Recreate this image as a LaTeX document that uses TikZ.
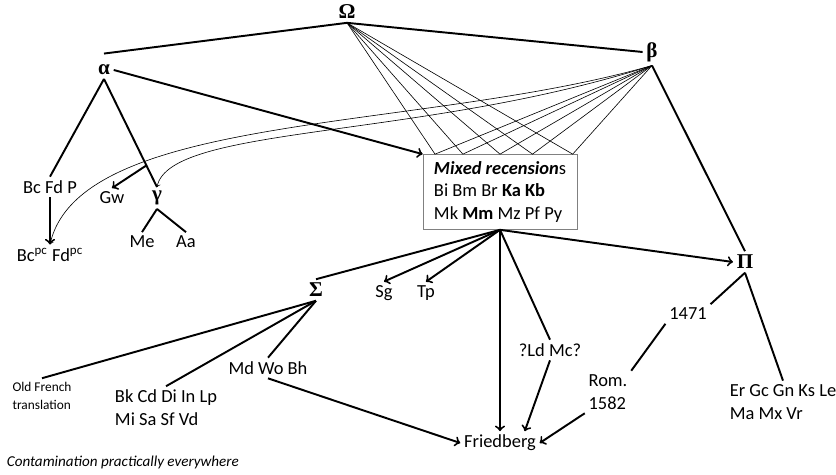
\documentclass[tikz,border=0pt]{standalone}
\usepackage{fontspec}
\setmainfont{Carlito}
\newfontfamily\grkfont{Liberation Serif}
\usetikzlibrary{calc}

\begin{document}
\begin{tikzpicture}[x=0.02cm, y=-0.02cm,
    every node/.style={inner sep=2pt, align=center, font=\fontsize{10.5}{13}\selectfont},
    grk/.style={font=\grkfont\fontsize{12}{14}\selectfont\bfseries},
    small/.style={font=\fontsize{7.6}{10.5}\selectfont},
    note/.style={font=\fontsize{8.6}{11}\selectfont\itshape},
    thick line/.style={line width=1.1pt},
    thin line/.style={line width=0.35pt},
    arr/.style={->, line width=1.1pt}]
    \useasboundingbox (0,0) rectangle (836,475);

    % Nodes
    \node[grk] (Omega) at (347,12) {Ω};
    \node[grk] (alpha) at (104,70) {α};
    \node[grk] (beta) at (652,52) {β};
    \node[draw=gray, minimum width=3.08cm, minimum height=1.5cm, align=left,
          font=\fontsize{10.5}{12.8}\selectfont] (box) at (500,192)
        {\textbf{\textit{Mixed recension}}s\\Bi Bm Br \textbf{Ka} \textbf{Kb}\\Mk \textbf{Mm} Mz Pf Py};
    \node (BcFdP) at (50,187) {Bc Fd P};
    \node (Bcpc) at (50,255) {Bc\textsuperscript{pc} Fd\textsuperscript{pc}};
    \node (Gw) at (112,198) {Gw};
    \node[grk] (gamma) at (157,198) {γ};
    \node (Me) at (142,242) {Me};
    \node (Aa) at (186,242) {Aa};
    \node[grk] (Sigma) at (316,290) {Σ};
    \node (Sg) at (384,293) {Sg};
    \node (Tp) at (426,293) {Tp};
    \node[grk] (Pi) at (745,262) {Π};
    \node (n1471) at (688,314) {1471};
    \node[align=left] (Rom) at (608,392) {Rom.\\1582};
    \node (LdMc) at (550,350) {?Ld Mc?};
    \node (Friedberg) at (500,443) {Friedberg};
    \node[align=left] (ErGc) at (783,402) {Er Gc Gn Ks Le\\Ma Mx Vr};
    \node[small, align=left] (OldFrench) at (42,396) {Old French\\translation};
    \node[align=left] (BkCd) at (166,408) {Bk Cd Di In Lp\\Mi Sa Sf Vd};
    \node (MdWo) at (268,368) {Md Wo Bh};
    \node[note, anchor=west] (contam) at (3,462) {Contamination practically everywhere};

    % Lines
    \draw[thick line] (Omega.south) -- ([yshift=0.15cm]alpha.north);
    \draw[thick line] (Omega.south) -- (beta.west);
    \draw[arr] (alpha.east) -- (box.north west);
    \draw[thick line] (alpha.south) -- (BcFdP.north);
    \draw[thick line] (alpha.south) -- (gamma.north);
    \draw[arr] ($(alpha.south)!0.8!(gamma.north)$) -- (Gw.north);
    \draw[arr] (BcFdP) -- (Bcpc);
    \draw[thick line] (gamma.south) -- (Me.north);
    \draw[thick line] (gamma.south) -- (Aa.north);
    \draw[thick line] (beta.south) -- (Pi.north);

    % Contamination
    \foreach \t in {0.08,0.26,0.5,0.71,0.97}
        \draw[thin line] (Omega.south) -- ($(box.north west)!\t!(box.north east)$) -- (beta.south);
    \draw[thin line, ->] (beta.south) .. controls (420,140) and (170,125) .. (gamma.north);
    \draw[thin line, ->] (beta.south) .. controls (420,132) and (80,112) .. (Bcpc.north);

    % Arrows
    \draw[thick line] (box.south) -- (Sigma.north);
    \draw[arr] (box.south) -- (Sg.north);
    \draw[arr] (box.south) -- (Tp.north);
    \draw[arr] (box.south) -- (Friedberg.north);
    \draw[thick line] (box.south) -- (LdMc.north);
    \draw[arr] (box.south) -- (Pi.west);
    \draw[thick line] (Sigma.south) -- (OldFrench.north);
    \draw[thick line] (Sigma.south) -- (BkCd.north);
    \draw[thick line] (Sigma.south) -- (MdWo.north);
    \draw[arr] (MdWo.south) -- (Friedberg.west);
    \draw[arr] (LdMc.south) -- ([xshift=-0.3cm]Friedberg.north east);
    \draw[thick line] (Pi.south) -- (n1471.north east);
    \draw[thick line] (Pi.south) -- (ErGc.north);
    \draw[thick line] (n1471.south west) -- (Rom.north east);
    \draw[arr] (Rom.south west) -- (Friedberg.east);
\end{tikzpicture}
\end{document}
